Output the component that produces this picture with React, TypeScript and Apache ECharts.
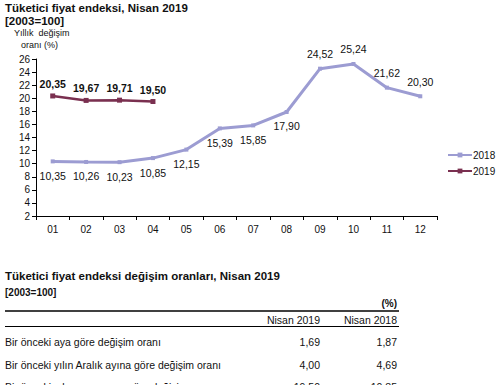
import React, { useEffect, useRef } from "react";
import * as echarts from "echarts";

const months = ["01", "02", "03", "04", "05", "06", "07", "08", "09", "10", "11", "12"];
const values2018 = [10.35, 10.26, 10.23, 10.85, 12.15, 15.39, 15.85, 17.9, 24.52, 25.24, 21.62, 20.3];
const values2019 = [20.35, 19.67, 19.71, 19.5];
const labelPos2018 = ["bottom", "bottom", "bottom", "bottom", "bottom", "bottom", "bottom", "bottom", "top", "top", "top", "top"];

const tableRows = [
  "Bir önceki aya göre değişim oranı",
  "Bir önceki yılın Aralık ayına göre değişim oranı",
  "Bir önceki yılın aynı ayına göre değişim oranı",
];
const tableNisan2019 = ["1,69", "4,00", "19,50"];
const tableNisan2018 = ["1,87", "4,69", "10,85"];

const FONT = "'Liberation Sans', Arial, sans-serif";
const fmt = (v: number) => v.toFixed(2).replace(".", ",");

export default function App() {
  const ref = useRef<HTMLDivElement>(null);
  useEffect(() => {
    if (!ref.current) return;
    const chart = echarts.init(ref.current, null, { renderer: "svg" });
    const txt = (text: string, x: number, y: number, size: number, bold = false, align = "left") => ({
      type: "text",
      x,
      y,
      style: {
        text,
        fontSize: size,
        fontWeight: bold ? "bold" : "normal",
        fontFamily: FONT,
        fill: "#111",
        textAlign: align,
        textVerticalAlign: "middle",
      },
    });
    const graphics: any[] = [
      txt("Tüketici fiyat endeksi, Nisan 2019", 5, 8, 11.5, true),
      txt("[2003=100]", 5, 21, 11.5, true),
      txt("Yıllık  değişim", 14, 33, 9),
      txt("oranı (%)", 21, 45, 9),
      txt("Tüketici fiyat endeksi değişim oranları, Nisan 2019", 5, 276, 11.5, true),
      txt("[2003=100]", 5, 292, 10, true),
      txt("(%)", 397, 303, 10, true, "right"),
      { type: "line", shape: { x1: 5, y1: 311, x2: 399, y2: 311 }, style: { stroke: "#000", lineWidth: 1.5 } },
      txt("Nisan 2019", 320, 320, 10.5, false, "right"),
      txt("Nisan 2018", 397, 320, 10.5, false, "right"),
      { type: "line", shape: { x1: 5, y1: 326.5, x2: 399, y2: 326.5 }, style: { stroke: "#000", lineWidth: 1 } },
    ];
    tableRows.forEach((r, i) => {
      const y = 342 + i * 22.5;
      graphics.push(txt(r, 5, y, 10.5));
      graphics.push(txt(tableNisan2019[i], 320, y, 10.5, false, "right"));
      graphics.push(txt(tableNisan2018[i], 397, y, 10.5, false, "right"));
    });

    chart.setOption({
      animation: false,
      backgroundColor: "#fff",
      textStyle: { fontFamily: FONT },
      grid: { left: 36, top: 59, width: 401, height: 157 },
      legend: {
        orient: "vertical",
        left: 442,
        top: 145,
        itemWidth: 24,
        itemHeight: 6,
        itemGap: 6,
        textStyle: { fontSize: 10, color: "#111", fontFamily: FONT, padding: [0, 0, 0, -4] },
        data: ["2018", "2019"],
      },
      xAxis: {
        type: "category",
        data: months,
        boundaryGap: true,
        axisLine: { lineStyle: { color: "#000", width: 1 } },
        axisTick: { show: true, length: 4, inside: false, lineStyle: { color: "#000" } },
        axisLabel: { color: "#111", fontSize: 10, margin: 8, fontFamily: FONT },
        splitLine: { show: false },
      },
      yAxis: {
        type: "value",
        min: 2,
        max: 26,
        interval: 2,
        axisLine: { show: true, lineStyle: { color: "#000", width: 1 } },
        axisTick: { show: true, length: 4, lineStyle: { color: "#000" } },
        axisLabel: { color: "#111", fontSize: 10, margin: 6, fontFamily: FONT },
        splitLine: { show: false },
      },
      series: [
        {
          name: "2018",
          type: "line",
          data: values2018.map((v, i) => ({
            value: v,
            label: { position: labelPos2018[i] },
          })),
          symbol: "rect",
          symbolSize: 4,
          lineStyle: { color: "#9c9cd2", width: 3 },
          itemStyle: { color: "#9c9cd2" },
          label: {
            show: true,
            fontSize: 10.5,
            color: "#111",
            distance: 7,
            fontFamily: FONT,
            formatter: (p: any) => fmt(p.value),
          },
        },
        {
          name: "2019",
          type: "line",
          data: values2019,
          symbol: "rect",
          symbolSize: 5,
          lineStyle: { color: "#7a3050", width: 2.5 },
          itemStyle: { color: "#7a3050" },
          label: {
            show: true,
            position: "top",
            fontSize: 10.5,
            fontWeight: "bold",
            color: "#111",
            distance: 4,
            fontFamily: FONT,
            formatter: (p: any) => fmt(p.value),
          },
        },
      ],
      graphic: graphics,
    });
    return () => chart.dispose();
  }, []);
  return <div ref={ref} style={{ position: "absolute", left: 0, top: 0, width: 500, height: 385 }} />;
}
